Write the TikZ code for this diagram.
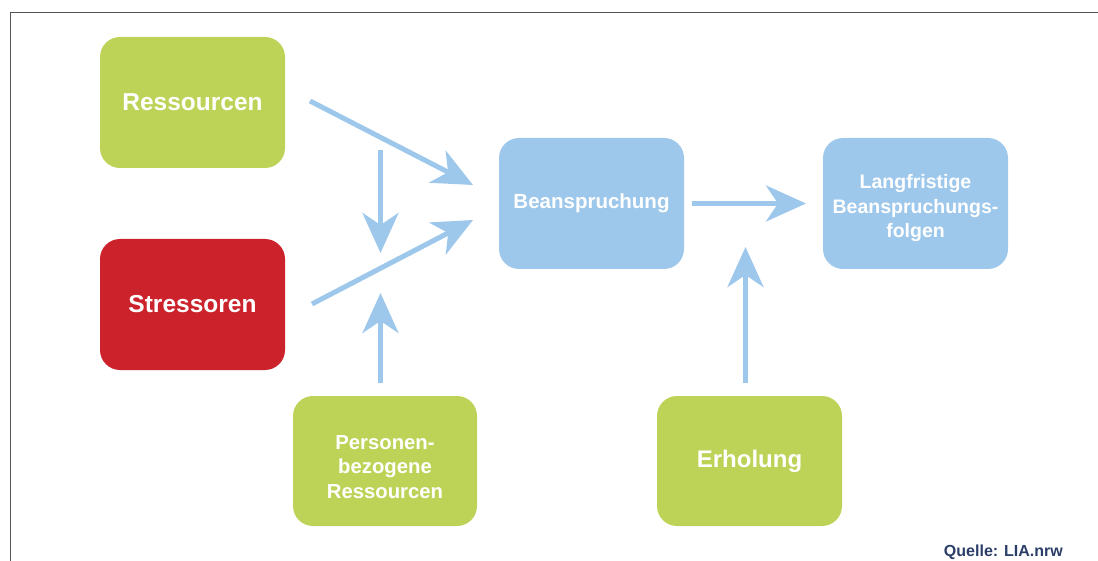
\documentclass[tikz,border=0pt]{standalone}
\usepackage{fontspec}
\setmainfont{Liberation Sans}
\usetikzlibrary{arrows.meta}
\definecolor{resgreen}{HTML}{BDD358}
\definecolor{stressred}{HTML}{CB222B}
\definecolor{loadblue}{HTML}{9EC8EB}
\definecolor{framegray}{HTML}{555555}
\definecolor{srcnavy}{HTML}{2A3E68}
\tikzset{
  box/.style={rounded corners=20pt, minimum width=185pt, minimum height=131pt,
    inner sep=0pt, align=center, text=white, font=\bfseries},
  boxtext/.style={inner sep=0pt, align=center, text=white},
  flow/.style={draw=loadblue, line width=5pt,
    -{Stealth[length=40pt,width=36pt,inset=12pt]}},
}
\begin{document}
\begin{tikzpicture}[x=1pt,y=-1pt]
\useasboundingbox (0,0) rectangle (1098,561);
% frame lines along the top and left
\draw[framegray, line width=1.8pt] (10.5,561) -- (10.5,12.5) -- (1098,12.5);

% boxes
\node[box, fill=resgreen, font=\bfseries\fontsize{24.5}{28}\selectfont] (ress) at (192.5,102.5) {Ressourcen};
\node[box, fill=stressred, font=\bfseries\fontsize{24.5}{28}\selectfont] (stress) at (192.5,304.5) {Stressoren};
\node[box, fill=loadblue, font=\bfseries\fontsize{20.5}{24.5}\selectfont] (bean) at (591.5,203.5) {Beanspruchung};
\node[box, fill=loadblue] (lang) at (915.5,203.5) {};
\node[boxtext, font=\bfseries\fontsize{19.5}{24.5}\selectfont] (lang-t) at ([yshift=-5pt]lang.center)
  {Langfristige\\Beanspruchungs-\\folgen};
\node[box, fill=resgreen, minimum width=184pt, minimum height=130pt] (pers) at (385,461) {};
\node[boxtext, font=\bfseries\fontsize{20.3}{24.5}\selectfont] (pers-t) at ([yshift=-6pt]pers.center)
  {Personen-\\bezogene\\Ressourcen};
\node[box, fill=resgreen, minimum height=130pt, font=\bfseries\fontsize{24}{28}\selectfont] (erh) at (749.5,461) {Erholung};

% connector end points
\coordinate (a1s) at (310,101);
\coordinate (a1e) at (473,185);
\coordinate (a2s) at (380.5,150);
\coordinate (a2e) at (380.5,253);
\coordinate (a3s) at (312,304);
\coordinate (a3e) at (473,220);
\coordinate (a4s) at (380.5,383);
\coordinate (a4e) at (380.5,293);
\coordinate (a5s) at (692,203.5);
\coordinate (a5e) at (806,203.5);
\coordinate (a6s) at (745.5,383);
\coordinate (a6e) at (745.5,247);

% arrows
\draw[flow] (a1s) -- (a1e);
\draw[flow] (a2s) -- (a2e);
\draw[flow] (a3s) -- (a3e);
\draw[flow] (a4s) -- (a4e);
\draw[flow] (a5s) -- (a5e);
\draw[flow] (a6s) -- (a6e);

% source note
\node[text=srcnavy, font=\bfseries\fontsize{16}{18}\selectfont, anchor=east, inner sep=0pt] (src) at (1063,552) {Quelle: LIA.nrw};
\end{tikzpicture}
\end{document}
